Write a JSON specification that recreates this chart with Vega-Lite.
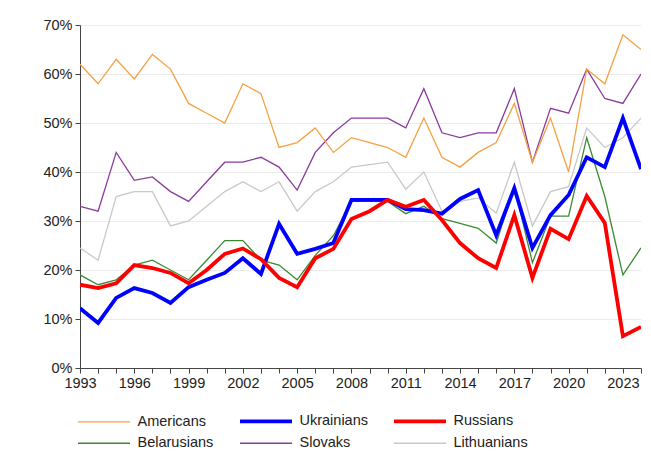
{
  "$schema": "https://vega.github.io/schema/vega-lite/v6.json",
  "width": 561,
  "height": 343,
  "autosize": {"type": "none"},
  "padding": {"left": 80, "top": 25, "right": 10, "bottom": 107},
  "background": "white",
  "config": {"font": "Liberation Sans", "view": {"stroke": null}},
  "data": {"values": [
{"g":"Lithuanians","year":1993,"v":24.5},{"g":"Lithuanians","year":1994,"v":22},{"g":"Lithuanians","year":1995,"v":35},{"g":"Lithuanians","year":1996,"v":36},{"g":"Lithuanians","year":1997,"v":36},{"g":"Lithuanians","year":1998,"v":29},{"g":"Lithuanians","year":1999,"v":30},{"g":"Lithuanians","year":2000,"v":33},{"g":"Lithuanians","year":2001,"v":36},{"g":"Lithuanians","year":2002,"v":38},{"g":"Lithuanians","year":2003,"v":36},{"g":"Lithuanians","year":2004,"v":38},{"g":"Lithuanians","year":2005,"v":32},{"g":"Lithuanians","year":2006,"v":36},{"g":"Lithuanians","year":2007,"v":38},{"g":"Lithuanians","year":2008,"v":41},{"g":"Lithuanians","year":2009,"v":41.5},{"g":"Lithuanians","year":2010,"v":42},{"g":"Lithuanians","year":2011,"v":36.5},{"g":"Lithuanians","year":2012,"v":40},{"g":"Lithuanians","year":2013,"v":32},{"g":"Lithuanians","year":2014,"v":34},{"g":"Lithuanians","year":2015,"v":34.7},{"g":"Lithuanians","year":2016,"v":31.6},{"g":"Lithuanians","year":2017,"v":42},{"g":"Lithuanians","year":2018,"v":29},{"g":"Lithuanians","year":2019,"v":36},{"g":"Lithuanians","year":2020,"v":37},{"g":"Lithuanians","year":2021,"v":49},{"g":"Lithuanians","year":2022,"v":45},{"g":"Lithuanians","year":2023,"v":47},{"g":"Lithuanians","year":2024,"v":51},
{"g":"Slovaks","year":1993,"v":33},{"g":"Slovaks","year":1994,"v":32},{"g":"Slovaks","year":1995,"v":44},{"g":"Slovaks","year":1996,"v":38.3},{"g":"Slovaks","year":1997,"v":39},{"g":"Slovaks","year":1998,"v":36},{"g":"Slovaks","year":1999,"v":34},{"g":"Slovaks","year":2000,"v":38},{"g":"Slovaks","year":2001,"v":42},{"g":"Slovaks","year":2002,"v":42},{"g":"Slovaks","year":2003,"v":43},{"g":"Slovaks","year":2004,"v":41},{"g":"Slovaks","year":2005,"v":36.3},{"g":"Slovaks","year":2006,"v":44},{"g":"Slovaks","year":2007,"v":48},{"g":"Slovaks","year":2008,"v":51},{"g":"Slovaks","year":2009,"v":51},{"g":"Slovaks","year":2010,"v":51},{"g":"Slovaks","year":2011,"v":49},{"g":"Slovaks","year":2012,"v":57},{"g":"Slovaks","year":2013,"v":48},{"g":"Slovaks","year":2014,"v":47},{"g":"Slovaks","year":2015,"v":48},{"g":"Slovaks","year":2016,"v":48},{"g":"Slovaks","year":2017,"v":57},{"g":"Slovaks","year":2018,"v":42},{"g":"Slovaks","year":2019,"v":53},{"g":"Slovaks","year":2020,"v":52},{"g":"Slovaks","year":2021,"v":61},{"g":"Slovaks","year":2022,"v":55},{"g":"Slovaks","year":2023,"v":54},{"g":"Slovaks","year":2024,"v":60},
{"g":"Belarusians","year":1993,"v":19},{"g":"Belarusians","year":1994,"v":17},{"g":"Belarusians","year":1995,"v":18},{"g":"Belarusians","year":1996,"v":21},{"g":"Belarusians","year":1997,"v":22},{"g":"Belarusians","year":1998,"v":20},{"g":"Belarusians","year":1999,"v":18},{"g":"Belarusians","year":2000,"v":22},{"g":"Belarusians","year":2001,"v":26},{"g":"Belarusians","year":2002,"v":26},{"g":"Belarusians","year":2003,"v":22},{"g":"Belarusians","year":2004,"v":21},{"g":"Belarusians","year":2005,"v":18},{"g":"Belarusians","year":2006,"v":23},{"g":"Belarusians","year":2007,"v":27},{"g":"Belarusians","year":2008,"v":34},{"g":"Belarusians","year":2009,"v":34},{"g":"Belarusians","year":2010,"v":34},{"g":"Belarusians","year":2011,"v":31.5},{"g":"Belarusians","year":2012,"v":33},{"g":"Belarusians","year":2013,"v":30.5},{"g":"Belarusians","year":2014,"v":29.5},{"g":"Belarusians","year":2015,"v":28.5},{"g":"Belarusians","year":2016,"v":25.5},{"g":"Belarusians","year":2017,"v":37},{"g":"Belarusians","year":2018,"v":21.5},{"g":"Belarusians","year":2019,"v":31},{"g":"Belarusians","year":2020,"v":31},{"g":"Belarusians","year":2021,"v":47},{"g":"Belarusians","year":2022,"v":35},{"g":"Belarusians","year":2023,"v":19},{"g":"Belarusians","year":2024,"v":24.5},
{"g":"Americans","year":1993,"v":62},{"g":"Americans","year":1994,"v":58},{"g":"Americans","year":1995,"v":63},{"g":"Americans","year":1996,"v":59},{"g":"Americans","year":1997,"v":64},{"g":"Americans","year":1998,"v":61},{"g":"Americans","year":1999,"v":54},{"g":"Americans","year":2000,"v":52},{"g":"Americans","year":2001,"v":50},{"g":"Americans","year":2002,"v":58},{"g":"Americans","year":2003,"v":56},{"g":"Americans","year":2004,"v":45},{"g":"Americans","year":2005,"v":46},{"g":"Americans","year":2006,"v":49},{"g":"Americans","year":2007,"v":44},{"g":"Americans","year":2008,"v":47},{"g":"Americans","year":2009,"v":46},{"g":"Americans","year":2010,"v":45},{"g":"Americans","year":2011,"v":43},{"g":"Americans","year":2012,"v":51},{"g":"Americans","year":2013,"v":43},{"g":"Americans","year":2014,"v":41},{"g":"Americans","year":2015,"v":44},{"g":"Americans","year":2016,"v":46},{"g":"Americans","year":2017,"v":54},{"g":"Americans","year":2018,"v":42},{"g":"Americans","year":2019,"v":51},{"g":"Americans","year":2020,"v":40},{"g":"Americans","year":2021,"v":61},{"g":"Americans","year":2022,"v":58},{"g":"Americans","year":2023,"v":68},{"g":"Americans","year":2024,"v":65},
{"g":"Ukrainians","year":1993,"v":12.2},{"g":"Ukrainians","year":1994,"v":9.2},{"g":"Ukrainians","year":1995,"v":14.3},{"g":"Ukrainians","year":1996,"v":16.3},{"g":"Ukrainians","year":1997,"v":15.3},{"g":"Ukrainians","year":1998,"v":13.3},{"g":"Ukrainians","year":1999,"v":16.5},{"g":"Ukrainians","year":2000,"v":18},{"g":"Ukrainians","year":2001,"v":19.4},{"g":"Ukrainians","year":2002,"v":22.4},{"g":"Ukrainians","year":2003,"v":19.2},{"g":"Ukrainians","year":2004,"v":29.4},{"g":"Ukrainians","year":2005,"v":23.3},{"g":"Ukrainians","year":2006,"v":24.3},{"g":"Ukrainians","year":2007,"v":25.5},{"g":"Ukrainians","year":2008,"v":34.3},{"g":"Ukrainians","year":2009,"v":34.3},{"g":"Ukrainians","year":2010,"v":34.3},{"g":"Ukrainians","year":2011,"v":32.4},{"g":"Ukrainians","year":2012,"v":32.2},{"g":"Ukrainians","year":2013,"v":31.5},{"g":"Ukrainians","year":2014,"v":34.5},{"g":"Ukrainians","year":2015,"v":36.3},{"g":"Ukrainians","year":2016,"v":27.1},{"g":"Ukrainians","year":2017,"v":36.7},{"g":"Ukrainians","year":2018,"v":24.5},{"g":"Ukrainians","year":2019,"v":31.2},{"g":"Ukrainians","year":2020,"v":35.3},{"g":"Ukrainians","year":2021,"v":43},{"g":"Ukrainians","year":2022,"v":41},{"g":"Ukrainians","year":2023,"v":51},{"g":"Ukrainians","year":2024,"v":40.6},
{"g":"Russians","year":1993,"v":17},{"g":"Russians","year":1994,"v":16.3},{"g":"Russians","year":1995,"v":17.3},{"g":"Russians","year":1996,"v":21},{"g":"Russians","year":1997,"v":20.4},{"g":"Russians","year":1998,"v":19.4},{"g":"Russians","year":1999,"v":17.3},{"g":"Russians","year":2000,"v":20},{"g":"Russians","year":2001,"v":23.3},{"g":"Russians","year":2002,"v":24.4},{"g":"Russians","year":2003,"v":22.2},{"g":"Russians","year":2004,"v":18.4},{"g":"Russians","year":2005,"v":16.5},{"g":"Russians","year":2006,"v":22.4},{"g":"Russians","year":2007,"v":24.3},{"g":"Russians","year":2008,"v":30.4},{"g":"Russians","year":2009,"v":32},{"g":"Russians","year":2010,"v":34.3},{"g":"Russians","year":2011,"v":32.9},{"g":"Russians","year":2012,"v":34.3},{"g":"Russians","year":2013,"v":30.2},{"g":"Russians","year":2014,"v":25.5},{"g":"Russians","year":2015,"v":22.4},{"g":"Russians","year":2016,"v":20.4},{"g":"Russians","year":2017,"v":31.2},{"g":"Russians","year":2018,"v":18.4},{"g":"Russians","year":2019,"v":28.4},{"g":"Russians","year":2020,"v":26.3},{"g":"Russians","year":2021,"v":35.1},{"g":"Russians","year":2022,"v":29.6},{"g":"Russians","year":2023,"v":6.5},{"g":"Russians","year":2024,"v":8.4}
  ]},
  "mark": {"type": "line", "strokeJoin": "miter", "clip": true},
  "encoding": {
    "x": {
      "field": "year",
      "type": "quantitative",
      "scale": {"domain": [1993, 2024], "nice": false, "zero": false},
      "axis": {
        "title": null,
        "grid": false,
        "values": [1993,1994,1995,1996,1997,1998,1999,2000,2001,2002,2003,2004,2005,2006,2007,2008,2009,2010,2011,2012,2013,2014,2015,2016,2017,2018,2019,2020,2021,2022,2023,2024],
        "labelExpr": "(datum.value - 1993) % 3 == 0 ? datum.value + '' : ''",
        "domainColor": "#444444",
        "tickColor": "#444444",
        "tickSize": 5,
        "labelFontSize": 14.5,
        "labelColor": "#222222",
        "labelPadding": 3,
        "labelFlush": false,
        "labelOverlap": false
      }
    },
    "y": {
      "field": "v",
      "type": "quantitative",
      "scale": {"domain": [0, 70], "nice": false},
      "axis": {
        "title": null,
        "values": [0,10,20,30,40,50,60,70],
        "labelExpr": "datum.value + '%'",
        "grid": true,
        "gridColor": "#EBEBEB",
        "domainColor": "#444444",
        "tickColor": "#444444",
        "tickSize": 5,
        "labelFontSize": 14.5,
        "labelColor": "#222222",
        "labelPadding": 3
      }
    },
    "color": {
      "field": "g",
      "type": "nominal",
      "sort": null,
      "scale": {
        "domain": ["Americans","Ukrainians","Russians","Belarusians","Slovaks","Lithuanians"],
        "range": ["#F5A142","#0000FF","#FF0000","#3A8A34","#8A3A9C","#C8C8C8"]
      },
      "legend": {
        "title": null,
        "orient": "none",
        "legendX": -2,
        "legendY": 389,
        "direction": "horizontal",
        "columns": 3,
        "gridAlign": "each",
        "columnPadding": 18,
        "rowPadding": 6,
        "symbolType": "stroke",
        "symbolSize": 225,
        "labelFontSize": 14.5,
        "labelColor": "#222222",
        "labelOffset": 45,
        "labelLimit": 200,
        "encode": {
          "symbols": {
            "update": {
              "size": {"value": 2704},
              "x": {"value": 26},
              "strokeWidth": {"signal": "datum.value === 'Ukrainians' || datum.value === 'Russians' ? 3.8 : 1.3"}
            }
          }
        }
      }
    },
    "strokeWidth": {
      "condition": {"test": "datum.g === 'Ukrainians' || datum.g === 'Russians'", "value": 3.8},
      "value": 1.3
    }
  }
}
